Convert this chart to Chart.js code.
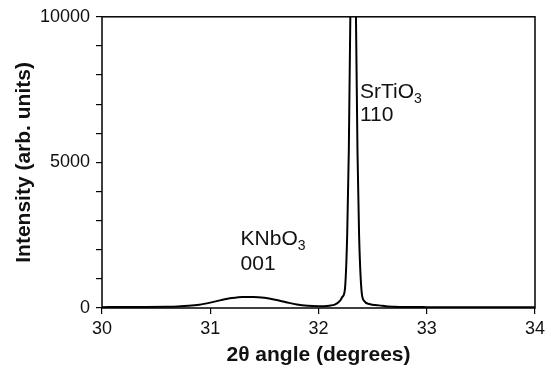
<!DOCTYPE html>
<html>
<head>
<meta charset="utf-8">
<script src="https://cdn.jsdelivr.net/npm/chart.js@4.4.0/dist/chart.umd.min.js"></script>
<style>
  html, body { margin: 0; padding: 0; background: #fff; }
  #wrap { width: 551px; height: 373px; }
</style>
</head>
<body>
<div id="wrap"><canvas id="xrd"></canvas></div>
<script>
// 2-theta scan (degrees) and measured intensity (arb. units)
const angles = [
  30.0, 30.2, 30.4, 30.6, 30.7, 30.8, 30.9, 31.0, 31.1, 31.2, 31.3, 31.4, 31.5,
  31.6, 31.7, 31.8, 31.9, 32.0, 32.1, 32.15, 32.2, 32.22, 32.243, 32.265,
  32.28, 32.294, 32.305, 32.32, 32.335, 32.346, 32.36, 32.375, 32.397, 32.42,
  32.47, 32.52, 32.56, 32.62, 32.7, 32.8, 33.0, 33.5, 34.0
];
const intensity = [
  30, 32, 36, 45, 55, 75, 115, 185, 270, 340, 378, 380, 350,
  285, 200, 120, 75, 60, 80, 115, 250, 380, 615, 2500,
  5400, 10000, 15000, 20000, 15000, 10000, 5400, 2500, 615, 250,
  140, 100, 90, 60, 45, 35, 30, 28, 28
];

const xTicks = [30, 31, 32, 33, 34];
const yLabelled = [0, 5000, 10000];

// peak labels: [angle, intensity at text baseline, main text, subscript]
const peakLabels = [
  [31.28, 2150, 'KNbO', '3'],
  [31.28, 1320, '001', ''],
  [32.383, 7210, 'SrTiO', '3'],
  [32.383, 6420, '110', '']
];

const fontFamily = "'Liberation Sans', Arial, Helvetica, sans-serif";

const points = angles.map((a, i) => ({ x: a, y: intensity[i] }));

const framePlugin = {
  id: 'frame',
  afterDraw(chart) {
    const { ctx, chartArea: a, scales } = chart;
    ctx.save();
    ctx.strokeStyle = '#000';
    ctx.lineWidth = 1.5;
    ctx.strokeRect(a.left, a.top, a.right - a.left, a.bottom - a.top);

    ctx.fillStyle = '#111';
    ctx.textBaseline = 'alphabetic';
    ctx.textAlign = 'left';
    peakLabels.forEach(([ang, val, main, sub]) => {
      const px = scales.x.getPixelForValue(ang);
      const py = scales.y.getPixelForValue(val);
      ctx.font = '21px ' + fontFamily;
      ctx.fillText(main, px, py);
      if (sub) {
        const w = ctx.measureText(main).width;
        ctx.font = '14px ' + fontFamily;
        ctx.fillText(sub, px + w, py + 5);
      }
    });
    ctx.restore();
  }
};

new Chart(document.getElementById('xrd'), {
  type: 'scatter',
  data: {
    datasets: [{
      data: points,
      showLine: true,
      borderColor: '#000',
      borderWidth: 2,
      pointRadius: 0,
      cubicInterpolationMode: 'monotone'
    }]
  },
  options: {
    responsive: true,
    maintainAspectRatio: false,
    animation: false,
    layout: { padding: { left: 0, right: 16, top: 15, bottom: 0 } },
    plugins: { legend: { display: false }, tooltip: { enabled: false } },
    scales: {
      x: {
        type: 'linear',
        min: 30,
        max: 34,
        afterBuildTicks(scale) { scale.ticks = xTicks.map(v => ({ value: v })); },
        afterFit(scale) { scale.height = 65; },
        border: { display: false },
        grid: { drawOnChartArea: false, drawTicks: true, tickLength: 6, color: '#000', lineWidth: 1.2 },
        ticks: { color: '#111', padding: 4, font: { family: fontFamily, size: 18 } },
        title: {
          display: true,
          text: '2θ angle (degrees)',
          color: '#111',
          padding: { top: 0, bottom: 5 },
          font: { family: fontFamily, size: 21, weight: 'bold' }
        }
      },
      y: {
        min: 0,
        max: 10000,
        ticks: {
          stepSize: 1000,
          color: '#111',
          padding: 6,
          font: { family: fontFamily, size: 18 },
          callback: v => (yLabelled.includes(v) ? String(v) : '')
        },
        afterFit(scale) { scale.width = 102; },
        border: { display: false },
        grid: { drawOnChartArea: false, drawTicks: true, tickLength: 6, color: '#000', lineWidth: 1.2 },
        title: {
          display: true,
          text: 'Intensity (arb. units)',
          color: '#111',
          padding: { top: 12, bottom: 0 },
          font: { family: fontFamily, size: 21, weight: 'bold' }
        }
      }
    }
  },
  plugins: [framePlugin]
});
</script>
</body>
</html>
